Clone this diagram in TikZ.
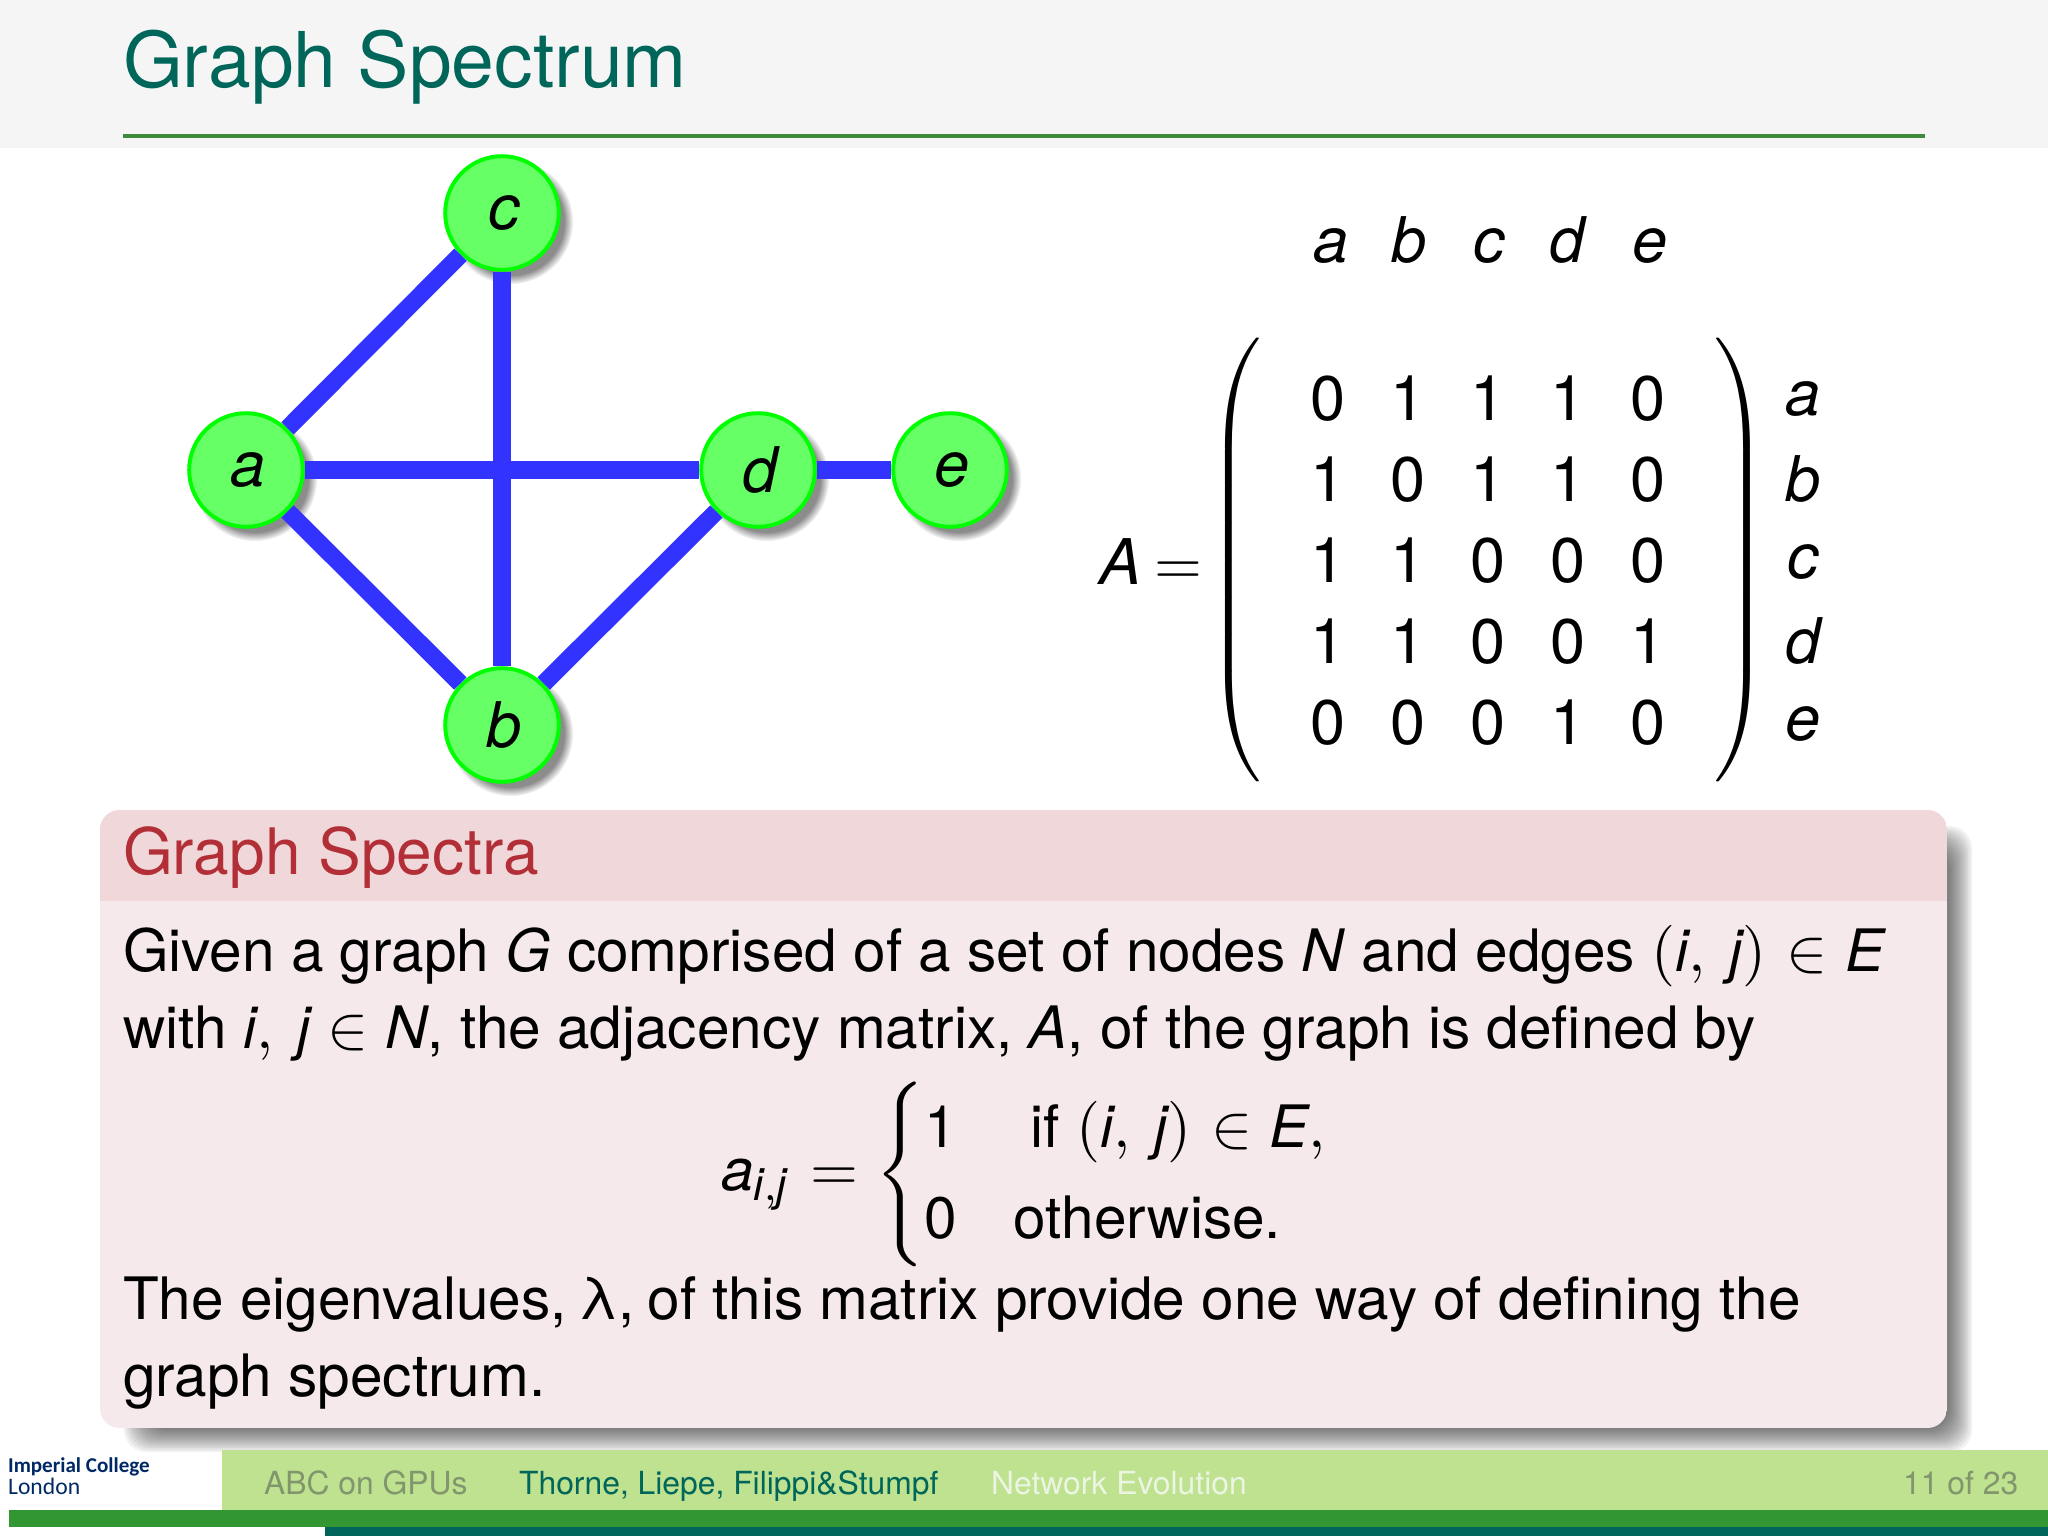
\documentclass[tikz,border=0pt]{standalone}
\usepackage{amsmath}
\usepackage[no-math]{fontspec}
\setmainfont{TeX Gyre Heros}
\newfontfamily\logofont{Carlito}
\usetikzlibrary{
        matrix,
        positioning,
        shadows,
        fadings
    }
\DeclareMathSizes{10.4}{10.95}{8}{6}
\definecolor{titleteal}{RGB}{0,102,90}
\definecolor{headgray}{RGB}{245,245,246}
\definecolor{ruleGreen}{RGB}{60,140,60}
\definecolor{nodefill}{RGB}{102,255,102}
\definecolor{nodeline}{RGB}{0,255,0}
\definecolor{edgeblue}{RGB}{51,51,255}
\definecolor{blocktop}{RGB}{240,215,218}
\definecolor{blockbody}{RGB}{245,233,235}
\definecolor{blockred}{RGB}{178,47,55}
\definecolor{footlight}{RGB}{190,226,143}
\definecolor{footmid}{RGB}{50,150,50}
\definecolor{footdark}{RGB}{0,100,90}
\definecolor{footgray}{RGB}{130,150,110}
\definecolor{footwhite}{RGB}{235,245,225}
\definecolor{logonavy}{RGB}{0,40,100}
\newcommand{\mv}[1]{\text{\itshape #1}}
\newcommand{\ijpair}{(\mv{i},\mkern4mu\mv{j})\mkern1mu}
\tikzset{
    vertex/.style={circle,draw=nodeline,fill=nodefill,line width=0.7pt,minimum size=20.2pt,inner sep=0pt,
        font=\fontsize{11.2}{13.6}\selectfont\itshape,execute at begin node=\hspace*{0.7pt},
        circular drop shadow={shadow xshift=1.4pt,shadow yshift=-1.4pt,shadow scale=1.1,fill=black!45}},
    link/.style={draw=edgeblue,line width=3.1pt},
    bodytext/.style={anchor=base west,inner sep=0pt,font=\fontsize{10.4}{13.6}\selectfont},
    cornertext/.style={anchor=base,inner sep=0pt,font=\fontsize{11.2}{13.6}\selectfont\itshape},
    foottext/.style={anchor=base west,inner sep=0pt,font=\fontsize{5.66}{7}\selectfont},
    logotext/.style={anchor=base west,inner sep=0pt,text=logonavy,font=\fontsize{4.2}{5}\selectfont\logofont}
}

\begin{document}
\begin{tikzpicture}[x=0.17778pt,y=-0.17778pt]
    \useasboundingbox (0,0) rectangle (2048,1536);
    % header
    \fill[headgray] (0,0) rectangle (2048,148);
    \draw[ruleGreen,line width=0.6pt] (123,136) -- (1925,136);
    \node[bodytext,text=titleteal,font=\fontsize{13.67}{16}\selectfont] (title) at (122,88) {Graph Spectrum};
    % graph
    \node[vertex] (a) at (246,470) {a};
    \node[vertex] (c) at (502,213) {c};
    \node[vertex] (b) at (502,725) {b};
    \node[vertex] (d) at (758,470) {d};
    \node[vertex] (e) at (950,470) {e};
    \path[link]
        (a) edge (c)
        (a) edge (b)
        (a) edge (d)
        (c) edge (b)
        (d) edge (b)
        (d) edge (e)
    ;
    % adjacency matrix
    \foreach \name/\xpos in {a/1331,b/1409,c/1489,d/1567,e/1650}
        \node[cornertext] (top\name) at (\xpos,262) {\name};
    \matrix (adj) at (1488,560) [matrix of nodes,inner sep=0pt,
        nodes={inner sep=0pt,minimum width=14.2pt,minimum height=14.4pt,text height=7.9pt,text depth=0pt,
            font=\fontsize{11.2}{13.6}\selectfont}] {
        0 & 1 & 1 & 1 & 0 \\
        1 & 0 & 1 & 1 & 0 \\
        1 & 1 & 0 & 0 & 0 \\
        1 & 1 & 0 & 0 & 1 \\
        0 & 0 & 0 & 1 & 0 \\
    };
    \node[inner sep=0pt,font=\fontsize{11.2}{13.6}\selectfont] (lparen) at (1238,561) {$\left(\vrule height 37pt depth 37pt width 0pt\right.$};
    \node[inner sep=0pt,font=\fontsize{11.2}{13.6}\selectfont] (rparen) at (1738,561) {$\left.\vrule height 37pt depth 37pt width 0pt\right)$};
    \node[bodytext,font=\fontsize{11.2}{13.6}\selectfont] (lhs) at (1098,584) {$\mv{A}\mkern-1mu=$};
    \foreach \name/\ypos in {a/415,b/501,c/578,d/663,e/740}
        \node[cornertext] (side\name) at (1803,\ypos) {\name};
    % block
    \foreach \s in {0,...,11}
        \fill[black,opacity=.055,rounded corners=4pt] (124+2*\s,826+2*\s) rectangle (1972-2*\s,1452-2*\s);
    \begin{scope}
        \clip[rounded corners=3.5pt] (100,810) rectangle (1947,1428);
        \fill[blockbody] (100,810) rectangle (1947,1428);
        \fill[blocktop] (100,810) rectangle (1947,901);
    \end{scope}
    \node[bodytext,text=blockred,font=\fontsize{11.38}{13.6}\selectfont] (blocktitle) at (122,874) {Graph Spectra};
    \node[bodytext] (line1) at (122,971) {Given a graph \textit{G} comprised of a set of nodes \textit{N} and edges $\ijpair\in\mv{E}$};
    \node[bodytext] (line2) at (122,1048) {with $\mv{i},\mkern4mu\mv{j}\in\mv{N}$, the adjacency matrix, \textit{A}, of the graph is defined by};
    \node[bodytext] (rule) at (720,1190) {$\mv{a}_{\mv{i},\mv{j}}\mkern1mu=\left\{\renewcommand{\arraystretch}{1.2}\begin{array}{@{}cl}
        \text{1} & \hspace*{3pt}\text{if } \ijpair\in\mv{E},\\
        \text{0} & \text{otherwise.}
        \end{array}\right.$};
    \node[bodytext] (line3) at (122,1319) {The eigenvalues,\hspace{-0.7pt} λ,\hspace{-0.7pt} of this matrix provide one way of defining the};
    \node[bodytext] (line4) at (122,1396) {graph spectrum.};
    % footer
    \fill[footlight] (222,1450) rectangle (2048,1510);
    \fill[footmid] (9,1510) rectangle (2048,1527);
    \fill[footdark] (325,1527) rectangle (2048,1536);
    \node[logotext,font=\fontsize{3.75}{5}\selectfont\logofont\bfseries] (logotop) at (7,1472) {Imperial College};
    \node[logotext] (logobot) at (7,1494) {London};
    \node[foottext,text=footgray] (talk) at (263,1494) {ABC on GPUs};
    \node[foottext,text=titleteal] (names) at (518,1494) {Thorne, Liepe, Filippi\&Stumpf};
    \node[foottext,text=footwhite] (topic) at (990,1494) {Network Evolution};
    \node[foottext,text=footgray] (page) at (1902,1494) {11 of 23};
\end{tikzpicture}
\end{document}
